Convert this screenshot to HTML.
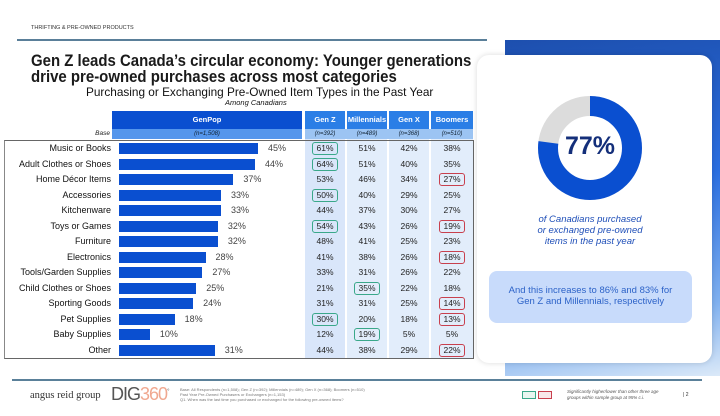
<!DOCTYPE html>
<html><head><meta charset="utf-8"><style>
*{margin:0;padding:0;box-sizing:border-box}
body{width:720px;height:416px;background:#fff;font-family:"Liberation Sans",sans-serif;position:relative;overflow:hidden}
.a{position:absolute}
.lab{position:absolute;right:609px;font-size:9px;color:#111;text-align:right;white-space:nowrap}
.bar{position:absolute;left:119px;height:11px;background:#0a4fd0}
.pv{position:absolute;font-size:9px;color:#444}
.c{position:absolute;width:40px;text-align:center;font-size:8.5px;color:#222}
.c div{border:1.2px solid transparent;border-radius:3px;width:26px;margin-left:7px;line-height:11px}
.c .g{border-color:#3aa88a}
.c .r{border-color:#c8404e}
.hd{position:absolute;top:111px;height:18px;color:#fff;font-weight:bold;font-size:7.5px;text-align:center;line-height:18px}
.bs{position:absolute;top:130px;height:9px;font-style:italic;font-size:6px;text-align:center;line-height:9px;color:#123}
</style></head><body>
<div class="a" style="left:31px;top:25px;font-size:5.5px;color:#333">THRIFTING &amp; PRE-OWNED PRODUCTS</div>
<div class="a" style="left:17px;top:39px;width:470px;height:2px;background:#5a7f99"></div>
<div class="a" style="left:31px;top:53px;font-size:17px;font-weight:bold;color:#1a1a1a;line-height:16px;white-space:nowrap;transform:scaleX(0.88);transform-origin:0 0">Gen Z leads Canada’s circular economy: Younger generations<br>drive pre-owned purchases across most categories</div>
<div class="a" style="left:86px;top:85px;font-size:11.8px;color:#111;white-space:nowrap">Purchasing or Exchanging Pre-Owned Item Types in the Past Year</div>
<div class="a" style="left:225px;top:98px;font-size:7.5px;font-style:italic;color:#111">Among Canadians</div>

<div class="a" style="left:305px;top:139px;width:40px;height:219px;background:#d9e6fa"></div>
<div class="a" style="left:347px;top:139px;width:40px;height:219px;background:#e2edfb"></div>
<div class="a" style="left:389px;top:139px;width:40px;height:219px;background:#e2edfb"></div>
<div class="a" style="left:431px;top:139px;width:42px;height:219px;background:#e2edfb"></div>
<div class="hd" style="left:112px;width:190px;background:#0a4fd0">GenPop</div>
<div class="hd" style="left:305px;width:40px;background:#2b7ee6">Gen Z</div>
<div class="hd" style="left:347px;width:40px;background:#2b7ee6">Millennials</div>
<div class="hd" style="left:389px;width:40px;background:#2b7ee6">Gen X</div>
<div class="hd" style="left:431px;width:42px;background:#2b7ee6">Boomers</div>
<div class="a" style="left:112px;top:129px;width:190px;height:10px;background:#5596ec"></div>
<div class="bs" style="left:112px;width:190px">(n=1,508)</div>
<div class="a" style="left:305px;top:129px;width:168px;height:10px;background:#9cc4f3"></div>
<div class="bs" style="left:305px;width:40px">(n=392)</div>
<div class="bs" style="left:347px;width:40px">(n=489)</div>
<div class="bs" style="left:389px;width:40px">(n=368)</div>
<div class="bs" style="left:431px;width:42px">(n=510)</div>
<div class="a" style="left:60px;top:130px;width:50px;text-align:right;font-size:6.5px;font-style:italic;color:#222">Base</div>
<div class="a" style="left:4px;top:140px;width:470px;height:219px;border:1px solid #666;border-left-color:#888"></div>

<div id="rows"></div>
<script>
var d=[["Music or Books",45,"61g","51","42","38"],["Adult Clothes or Shoes",44,"64g","51","40","35"],["Home Décor Items",37,"53","46","34","27r"],["Accessories",33,"50g","40","29","25"],["Kitchenware",33,"44","37","30","27"],["Toys or Games",32,"54g","43","26","19r"],["Furniture",32,"48","41","25","23"],["Electronics",28,"41","38","26","18r"],["Tools/Garden Supplies",27,"33","31","26","22"],["Child Clothes or Shoes",25,"21","35g","22","18"],["Sporting Goods",24,"31","31","25","14r"],["Pet Supplies",18,"30g","20","18","13r"],["Baby Supplies",10,"12","19g","5","5"],["Other",31,"44","38","29","22r"]];
var h="",xs=[305,347,389,432];
d.forEach(function(r,i){var y=143+i*15.5;
h+='<div class="lab" style="top:'+(y)+'px">'+r[0]+'</div>';
h+='<div class="bar" style="top:'+y+'px;width:'+(r[1]*3.09)+'px"></div>';
h+='<div class="pv" style="top:'+(y)+'px;left:'+(119+r[1]*3.09+10)+'px">'+r[1]+'%</div>';
for(var j=0;j<4;j++){var v=r[2+j],cl="";if(/[gr]$/.test(v)){cl=v.slice(-1);v=v.slice(0,-1);}
h+='<div class="c" style="left:'+xs[j]+'px;top:'+(y-1)+'px"><div class="'+cl+'">'+v+'%</div></div>';}
});
document.getElementById("rows").innerHTML=h;
</script>

<div class="a" style="left:505px;top:40px;width:215px;height:336px;background:linear-gradient(170deg,#1d4fae 0%,#2a6ee0 45%,#7fb0ef 80%,#dbe9f8 100%)"></div>
<div class="a" style="left:477px;top:55px;width:235px;height:308px;background:#fff;border-radius:12px;box-shadow:0 0 6px rgba(0,0,0,.15)"></div>
<svg class="a" style="left:530px;top:88px" width="120" height="120" viewBox="0 0 120 120">
<circle cx="60" cy="60" r="42" fill="none" stroke="#dcdcdc" stroke-width="20"/>
<circle cx="60" cy="60" r="42" fill="none" stroke="#0a4fd0" stroke-width="20" stroke-dasharray="203.2 300" transform="rotate(-90 60 60)"/>
</svg>
<div class="a" style="left:530px;top:132px;width:120px;text-align:center;font-size:25px;font-weight:bold;color:#142f7a">77%</div>
<div class="a" style="left:520px;top:214px;width:140px;text-align:center;font-size:9.5px;font-style:italic;color:#1f4fb8;line-height:11px">of Canadians purchased<br>or exchanged pre-owned<br>items in the past year</div>
<div class="a" style="left:489px;top:271px;width:203px;height:52px;background:#c8dbfb;border-radius:8px;font-size:9.5px;color:#2d63c8;text-align:center;padding-top:14px;line-height:11px">And this increases to 86% and 83% for<br>Gen Z and Millennials, respectively</div>

<div class="a" style="left:12px;top:379px;width:690px;height:2px;background:#5a8099"></div>
<div class="a" style="left:30px;top:390px;font-family:'Liberation Serif',serif;font-size:10.5px;color:#333">angus reid group</div>
<div class="a" style="left:111px;top:384px;font-size:18px;color:#555;letter-spacing:-1px">DIG<span style="color:#f0a890">360</span><sup style="font-size:6px">°</sup></div>
<div class="a" style="left:180px;top:387px;font-size:4px;color:#777;line-height:5px">Base: All Respondents (n=1,508); Gen Z (n=392); Millennials (n=489); Gen X (n=368); Boomers (n=510)<br>Past Year Pre-Owned Purchasers or Exchangers (n=1,153)<br>Q1. When was the last time you purchased or exchanged for the following pre-owned items?</div>
<div class="a" style="left:522px;top:391px;width:14px;height:8px;border:1.2px solid #3aa88a;background:#e8f6f0"></div>
<div class="a" style="left:538px;top:391px;width:14px;height:8px;border:1.2px solid #c8404e;background:#f8e8ea"></div>
<div class="a" style="left:567px;top:389px;font-size:4.5px;font-style:italic;color:#555;line-height:6px">Significantly higher/lower than other three age<br>groups within sample group at 95% c.i.</div>
<div class="a" style="left:683px;top:392px;font-size:5px;color:#333">| 2</div>
</body></html>
